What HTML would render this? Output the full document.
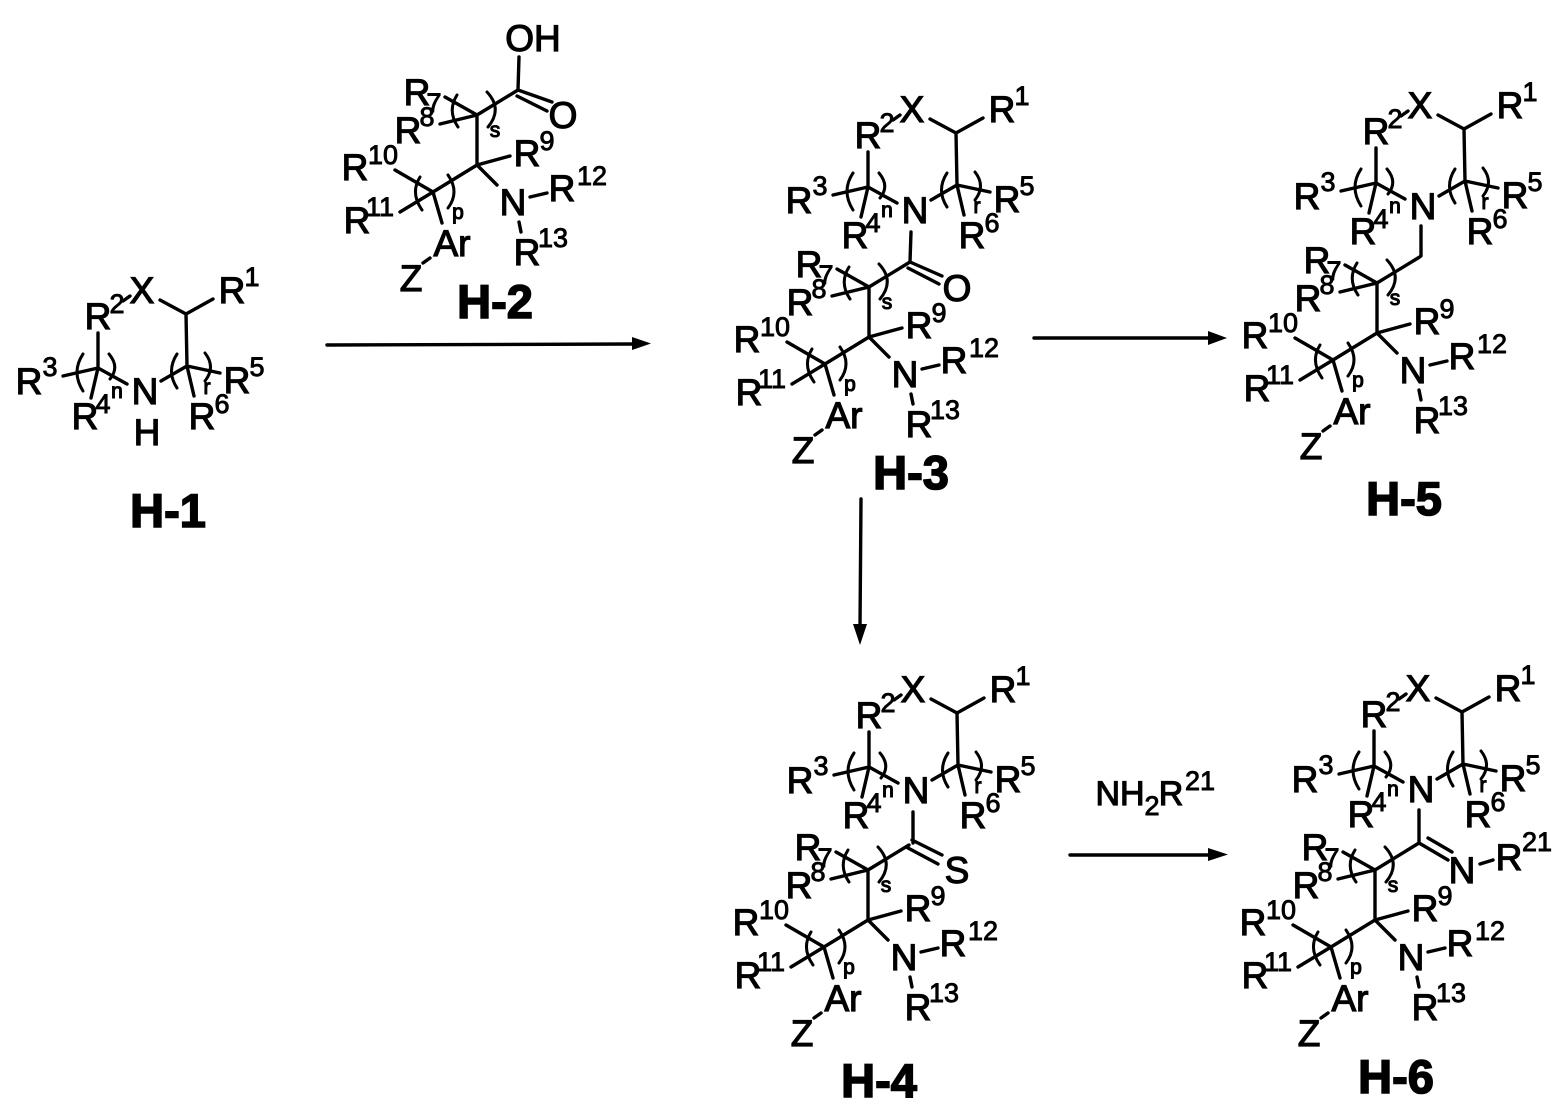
<!DOCTYPE html>
<html><head><meta charset="utf-8"><style>
html,body{margin:0;padding:0;background:#fff}
svg{display:block}
text{font-family:"Liberation Sans",Arial,sans-serif;fill:#000;stroke:#000;stroke-width:1.2;text-anchor:middle}
.r{font-size:37px}
.s{font-size:27px;stroke-width:.9}
.t{font-size:21px;stroke-width:1.1}
.l{font-size:47px;font-weight:bold;stroke-width:1.6}
.b{fill:none;stroke:#000;stroke-width:3.4;stroke-linecap:round;stroke-linejoin:round}
.p{fill:none;stroke:#000;stroke-width:3;stroke-linecap:round}
</style></head><body>
<svg width="1564" height="1119" viewBox="0 0 1564 1119" xmlns="http://www.w3.org/2000/svg">
<rect width="1564" height="1119" fill="#fff"/>

<!-- arrows -->
<path class="b" d="M327 345L635 344"/><polygon points="632,337 651,343.5 632,350"/>
<path class="b" d="M1034 338L1212 338"/><polygon points="1208,331 1227,338 1208,345"/>
<path class="b" d="M861 499L860 628"/><polygon points="853,624 867,624 860,645"/>
<path class="b" d="M1070 855L1212 855"/><polygon points="1208,848 1228,854.5 1208,861"/>
<text class="r" style="font-size:34px" x="1120" y="805">NH</text><text class="s" x="1152" y="815">2</text><text class="r" style="font-size:34px" x="1171" y="805">R</text><text class="s" x="1200" y="790">21</text>

<!-- H-1 upper -->
<g transform="translate(-770,181)">
<path class="b" d="M893 120L900 115M930 119L956 133L983 118M956 133L957 185L931 200M957 185L990 192M957 185L964 215M868 152L868 187L833 195M868 187L897 203M868 187L861 217"/>
<path class="p" d="M853 173Q841 191 853 210M879 173Q890 186 880 198M947 173Q936 190 947 207M975 172Q986 186 975 200"/>
<text class="r" x="912" y="122">X</text><text class="r" x="868" y="148">R</text><text class="s" x="887" y="132">2</text>
<text class="r" x="1002" y="122">R</text><text class="s" x="1022" y="105">1</text>
<text class="r" x="799" y="213">R</text><text class="s" x="820" y="195">3</text>
<text class="r" x="855" y="248">R</text><text class="s" x="873" y="232">4</text><text class="t" x="887" y="217">n</text>
<text class="r" x="915" y="223">N</text>
<text class="r" x="972" y="248">R</text><text class="s" x="992" y="232">6</text><text class="t" x="977" y="213">r</text>
<text class="r" x="1007" y="212">R</text><text class="s" x="1027" y="195">5</text>
</g>
<text class="r" x="147" y="445">H</text>
<text class="l" x="168" y="527">H-1</text>

<!-- H-2 -->
<g>
<path class="b" d="M477 115L518 90M445 97L477 115L440 124M477 115L477 165L510 156M477 165L497 185M530 197L547 193M519 222L521 232M477 165L433 192L395 170M433 192L400 212M433 192L442 223M430 258L423 263"/>
<path class="p" d="M457 95Q447 111 458 127M487 92Q503 109 488 127M420 177Q410 193 422 210M448 175Q460 192 448 208"/>
<text class="r" x="417" y="105">R</text><text class="s" x="434" y="112">7</text>
<text class="r" x="408" y="143">R</text><text class="s" x="427" y="126">8</text>
<text class="t" x="495" y="137">s</text>
<text class="r" x="527" y="166">R</text><text class="s" x="547" y="150">9</text>
<text class="r" x="513" y="215">N</text>
<text class="r" x="562" y="201">R</text><text class="s" x="592" y="185">12</text>
<text class="r" x="527" y="265">R</text><text class="s" x="553" y="247">13</text>
<text class="r" x="355" y="180">R</text><text class="s" x="383" y="164">10</text>
<text class="r" x="357" y="233">R</text><text class="s" x="380" y="216">11</text>
<text class="t" x="458" y="219">p</text>
<text class="r" x="452" y="256">Ar</text><text class="r" x="411" y="291">Z</text>
</g>
<path class="b" d="M519 57L518 90L552 102M517 96L547 111"/>
<text class="r" x="533" y="51">OH</text><text class="r" x="563" y="128">O</text>
<text class="l" x="495" y="318">H-2</text>

<!-- H-3 -->
<g>
<path class="b" d="M893 120L900 115M930 119L956 133L983 118M956 133L957 185L931 200M957 185L990 192M957 185L964 215M868 152L868 187L833 195M868 187L897 203M868 187L861 217"/>
<path class="p" d="M853 173Q841 191 853 210M879 173Q890 186 880 198M947 173Q936 190 947 207M975 172Q986 186 975 200"/>
<text class="r" x="912" y="122">X</text><text class="r" x="868" y="148">R</text><text class="s" x="887" y="132">2</text>
<text class="r" x="1002" y="122">R</text><text class="s" x="1022" y="105">1</text>
<text class="r" x="799" y="213">R</text><text class="s" x="820" y="195">3</text>
<text class="r" x="855" y="248">R</text><text class="s" x="873" y="232">4</text><text class="t" x="887" y="217">n</text>
<text class="r" x="915" y="223">N</text>
<text class="r" x="972" y="248">R</text><text class="s" x="992" y="232">6</text><text class="t" x="977" y="213">r</text>
<text class="r" x="1007" y="212">R</text><text class="s" x="1027" y="195">5</text>
</g>
<g transform="translate(392,172)">
<path class="b" d="M477 115L518 90M445 97L477 115L440 124M477 115L477 165L510 156M477 165L497 185M530 197L547 193M519 222L521 232M477 165L433 192L395 170M433 192L400 212M433 192L442 223M430 258L423 263"/>
<path class="p" d="M457 95Q447 111 458 127M487 92Q503 109 488 127M420 177Q410 193 422 210M448 175Q460 192 448 208"/>
<text class="r" x="417" y="105">R</text><text class="s" x="434" y="112">7</text>
<text class="r" x="408" y="143">R</text><text class="s" x="427" y="126">8</text>
<text class="t" x="495" y="137">s</text>
<text class="r" x="527" y="166">R</text><text class="s" x="547" y="150">9</text>
<text class="r" x="513" y="215">N</text>
<text class="r" x="562" y="201">R</text><text class="s" x="592" y="185">12</text>
<text class="r" x="527" y="265">R</text><text class="s" x="553" y="247">13</text>
<text class="r" x="355" y="180">R</text><text class="s" x="383" y="164">10</text>
<text class="r" x="357" y="233">R</text><text class="s" x="380" y="216">11</text>
<text class="t" x="458" y="219">p</text>
<text class="r" x="452" y="256">Ar</text><text class="r" x="411" y="291">Z</text>
</g>
<path class="b" d="M911 232L910 262L942 276M908 268L939 284"/>
<text class="r" x="957" y="301">O</text>
<text class="l" x="911" y="489">H-3</text>

<!-- H-5 -->
<g transform="translate(508,-4)">
<path class="b" d="M893 120L900 115M930 119L956 133L983 118M956 133L957 185L931 200M957 185L990 192M957 185L964 215M868 152L868 187L833 195M868 187L897 203M868 187L861 217"/>
<path class="p" d="M853 173Q841 191 853 210M879 173Q890 186 880 198M947 173Q936 190 947 207M975 172Q986 186 975 200"/>
<text class="r" x="912" y="122">X</text><text class="r" x="868" y="148">R</text><text class="s" x="887" y="132">2</text>
<text class="r" x="1002" y="122">R</text><text class="s" x="1022" y="105">1</text>
<text class="r" x="799" y="213">R</text><text class="s" x="820" y="195">3</text>
<text class="r" x="855" y="248">R</text><text class="s" x="873" y="232">4</text><text class="t" x="887" y="217">n</text>
<text class="r" x="915" y="223">N</text>
<text class="r" x="972" y="248">R</text><text class="s" x="992" y="232">6</text><text class="t" x="977" y="213">r</text>
<text class="r" x="1007" y="212">R</text><text class="s" x="1027" y="195">5</text>
</g>
<g transform="translate(900,168)">
<path class="b" d="M477 115L518 90M445 97L477 115L440 124M477 115L477 165L510 156M477 165L497 185M530 197L547 193M519 222L521 232M477 165L433 192L395 170M433 192L400 212M433 192L442 223M430 258L423 263"/>
<path class="p" d="M457 95Q447 111 458 127M487 92Q503 109 488 127M420 177Q410 193 422 210M448 175Q460 192 448 208"/>
<text class="r" x="417" y="105">R</text><text class="s" x="434" y="112">7</text>
<text class="r" x="408" y="143">R</text><text class="s" x="427" y="126">8</text>
<text class="t" x="495" y="137">s</text>
<text class="r" x="527" y="166">R</text><text class="s" x="547" y="150">9</text>
<text class="r" x="513" y="215">N</text>
<text class="r" x="562" y="201">R</text><text class="s" x="592" y="185">12</text>
<text class="r" x="527" y="265">R</text><text class="s" x="553" y="247">13</text>
<text class="r" x="355" y="180">R</text><text class="s" x="383" y="164">10</text>
<text class="r" x="357" y="233">R</text><text class="s" x="380" y="216">11</text>
<text class="t" x="458" y="219">p</text>
<text class="r" x="452" y="256">Ar</text><text class="r" x="411" y="291">Z</text>
</g>
<path class="b" d="M1421 226L1421 256L1418 258"/>
<text class="l" x="1404" y="515">H-5</text>

<!-- H-4 -->
<g transform="translate(1,580)">
<path class="b" d="M893 120L900 115M930 119L956 133L983 118M956 133L957 185L931 200M957 185L990 192M957 185L964 215M868 152L868 187L833 195M868 187L897 203M868 187L861 217"/>
<path class="p" d="M853 173Q841 191 853 210M879 173Q890 186 880 198M947 173Q936 190 947 207M975 172Q986 186 975 200"/>
<text class="r" x="912" y="122">X</text><text class="r" x="868" y="148">R</text><text class="s" x="887" y="132">2</text>
<text class="r" x="1002" y="122">R</text><text class="s" x="1022" y="105">1</text>
<text class="r" x="799" y="213">R</text><text class="s" x="820" y="195">3</text>
<text class="r" x="855" y="248">R</text><text class="s" x="873" y="232">4</text><text class="t" x="887" y="217">n</text>
<text class="r" x="915" y="223">N</text>
<text class="r" x="972" y="248">R</text><text class="s" x="992" y="232">6</text><text class="t" x="977" y="213">r</text>
<text class="r" x="1007" y="212">R</text><text class="s" x="1027" y="195">5</text>
</g>
<g transform="translate(391,755)">
<path class="b" d="M477 115L518 90M445 97L477 115L440 124M477 115L477 165L510 156M477 165L497 185M530 197L547 193M519 222L521 232M477 165L433 192L395 170M433 192L400 212M433 192L442 223M430 258L423 263"/>
<path class="p" d="M457 95Q447 111 458 127M487 92Q503 109 488 127M420 177Q410 193 422 210M448 175Q460 192 448 208"/>
<text class="r" x="417" y="105">R</text><text class="s" x="434" y="112">7</text>
<text class="r" x="408" y="143">R</text><text class="s" x="427" y="126">8</text>
<text class="t" x="495" y="137">s</text>
<text class="r" x="527" y="166">R</text><text class="s" x="547" y="150">9</text>
<text class="r" x="513" y="215">N</text>
<text class="r" x="562" y="201">R</text><text class="s" x="592" y="185">12</text>
<text class="r" x="527" y="265">R</text><text class="s" x="553" y="247">13</text>
<text class="r" x="355" y="180">R</text><text class="s" x="383" y="164">10</text>
<text class="r" x="357" y="233">R</text><text class="s" x="380" y="216">11</text>
<text class="t" x="458" y="219">p</text>
<text class="r" x="452" y="256">Ar</text><text class="r" x="411" y="291">Z</text>
</g>
<path class="b" d="M913 812L913 843M912 840L942 855M908 848L938 864"/>
<text class="r" x="957" y="883">S</text>
<text class="l" x="879" y="1097">H-4</text>

<!-- H-6 -->
<g transform="translate(506,579)">
<path class="b" d="M893 120L900 115M930 119L956 133L983 118M956 133L957 185L931 200M957 185L990 192M957 185L964 215M868 152L868 187L833 195M868 187L897 203M868 187L861 217"/>
<path class="p" d="M853 173Q841 191 853 210M879 173Q890 186 880 198M947 173Q936 190 947 207M975 172Q986 186 975 200"/>
<text class="r" x="912" y="122">X</text><text class="r" x="868" y="148">R</text><text class="s" x="887" y="132">2</text>
<text class="r" x="1002" y="122">R</text><text class="s" x="1022" y="105">1</text>
<text class="r" x="799" y="213">R</text><text class="s" x="820" y="195">3</text>
<text class="r" x="855" y="248">R</text><text class="s" x="873" y="232">4</text><text class="t" x="887" y="217">n</text>
<text class="r" x="915" y="223">N</text>
<text class="r" x="972" y="248">R</text><text class="s" x="992" y="232">6</text><text class="t" x="977" y="213">r</text>
<text class="r" x="1007" y="212">R</text><text class="s" x="1027" y="195">5</text>
</g>
<g transform="translate(898,755)">
<path class="b" d="M477 115L521 88M445 97L477 115L440 124M477 115L477 165L510 156M477 165L497 185M530 197L547 193M519 222L521 232M477 165L433 192L395 170M433 192L400 212M433 192L442 223M430 258L423 263"/>
<path class="p" d="M457 95Q447 111 458 127M487 92Q503 109 488 127M420 177Q410 193 422 210M448 175Q460 192 448 208"/>
<text class="r" x="417" y="105">R</text><text class="s" x="434" y="112">7</text>
<text class="r" x="408" y="143">R</text><text class="s" x="427" y="126">8</text>
<text class="t" x="495" y="137">s</text>
<text class="r" x="527" y="166">R</text><text class="s" x="547" y="150">9</text>
<text class="r" x="513" y="215">N</text>
<text class="r" x="562" y="201">R</text><text class="s" x="592" y="185">12</text>
<text class="r" x="527" y="265">R</text><text class="s" x="553" y="247">13</text>
<text class="r" x="355" y="180">R</text><text class="s" x="383" y="164">10</text>
<text class="r" x="357" y="233">R</text><text class="s" x="380" y="216">11</text>
<text class="t" x="458" y="219">p</text>
<text class="r" x="452" y="256">Ar</text><text class="r" x="411" y="291">Z</text>
</g>
<path class="b" d="M1419 810L1419 843L1448 860M1428 838L1452 852M1480 864L1493 860"/>
<text class="r" x="1462" y="883">N</text>
<text class="r" x="1509" y="870">R</text><text class="s" x="1537" y="851">21</text>
<text class="l" x="1396" y="1093">H-6</text>
</svg>
</body></html>
